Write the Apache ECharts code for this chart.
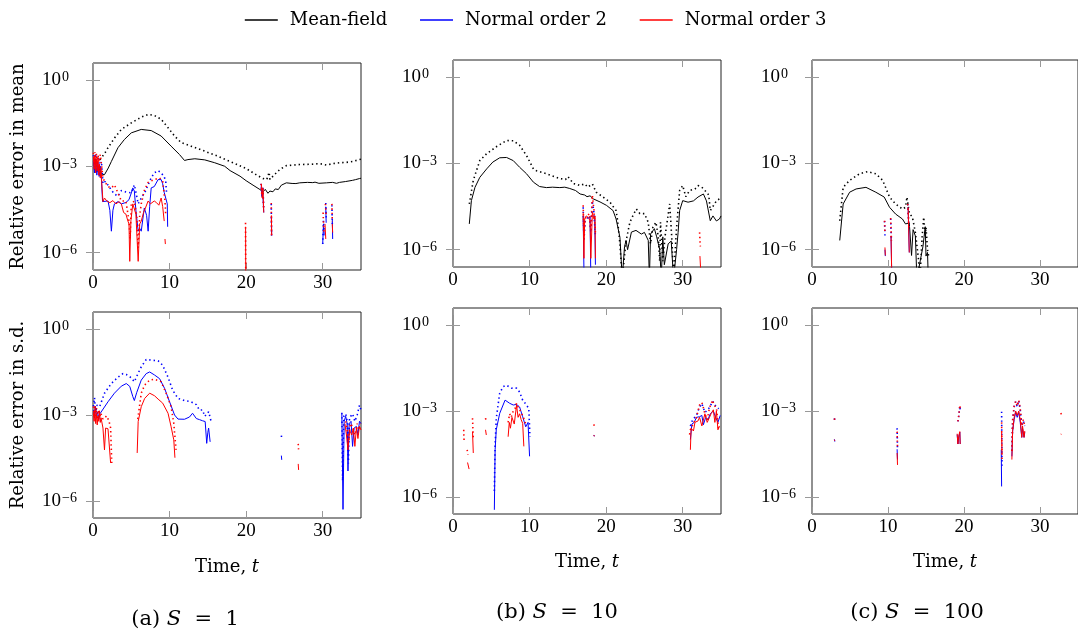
<!DOCTYPE html>
<html><head><meta charset="utf-8">
<script src="https://cdn.jsdelivr.net/npm/echarts@6/dist/echarts.min.js"></script>
<style>html,body{margin:0;padding:0;background:#fff}#c{width:1078px;height:637px}</style>
</head><body><div id="c"></div>
<script>
// ---------- tick labels ----------
const xTicks = [0, 10, 20, 30];
const yTicks = [1e-6, 1e-3, 1];
const captions = ['(a)', '(b)', '(c)'];
const captionS = ['1', '10', '100'];
const seriesNames = ['Mean-field', 'Normal order 2', 'Normal order 3'];

// ---------- (a) S = 1, relative error in mean ----------
const a_mean_mf = [[0.2,8e-4],[0.5,6.5e-4],[0.8,8.5e-4],[1.1,5.5e-4],[1.5,5.2e-4],[2.0,8.9e-4],[2.4,1.5e-3],[3.26,4.5e-3],[4.1,8.7e-3],[5.0,1.48e-2],[6.3,1.95e-2],[7.6,1.78e-2],[8.9,1.15e-2],[10.2,5.1e-3],[11.3,2.6e-3],[11.95,1.62e-3],[12.4,1.74e-3],[13.3,1.86e-3],[14.6,1.7e-3],[15.9,1.35e-3],[17.2,1.02e-3],[17.9,7.2e-4],[19.2,4.6e-4],[20.0,3.2e-4],[20.9,2.24e-4],[21.8,1.58e-4],[22.2,1.32e-4],[22.5,1.6e-4],[22.85,1.17e-4],[23.1,1.4e-4],[23.5,1.32e-4],[23.8,1.66e-4],[24.2,1.58e-4],[24.6,2.24e-4],[25.25,2.7e-4],[26.0,2.57e-4],[26.5,2.55e-4],[27.0,2.7e-4],[28.0,2.8e-4],[28.7,2.75e-4],[29.0,2.85e-4],[29.5,2.6e-4],[30.5,2.7e-4],[31.3,2.8e-4],[31.8,2.6e-4],[32.2,2.8e-4],[33.0,3.0e-4],[33.9,3.3e-4],[34.3,3.5e-4],[34.8,3.8e-4],[35,3.9e-4]];
const a_mean_mf_dot = [[0.9,1.7e-3],[1.5,2.8e-3],[1.96,4.5e-3],[2.83,1.0e-2],[3.7,1.95e-2],[5.0,3.3e-2],[6.3,5.2e-2],[7.2,6.5e-2],[8.0,6.0e-2],[8.9,4.4e-2],[9.8,2.24e-2],[10.65,1.15e-2],[11.5,6.8e-3],[12.8,5.1e-3],[14.6,3.4e-3],[16.3,2.3e-3],[17.3,1.74e-3],[18.3,1.35e-3],[20.0,8.5e-4],[21.3,5.2e-4],[22.2,3.8e-4],[22.7,3.55e-4],[23.0,6.3e-4],[23.1,3.55e-4],[23.7,5.2e-4],[24.4,7.9e-4],[25.25,1.07e-3],[27.0,1.17e-3],[28.5,1.2e-3],[29.6,1.26e-3],[30.5,1.12e-3],[31.3,1.26e-3],[32.2,1.35e-3],[33.0,1.38e-3],[33.9,1.5e-3],[34.8,1.74e-3],[35,1.78e-3]];
const a_mean_n2 = [[0.05,1.5e-3],[0.2,6e-4],[0.35,1.8e-3],[0.5,5e-4],[0.65,1.2e-3],[0.8,4.5e-4],[0.95,9e-4],[1.1,3.5e-4],[1.25,6e-5],[1.5,7e-5],[1.96,6.3e-5],[2.2,3e-5],[2.4,5.6e-6],[2.6,3e-5],[2.8,5e-5],[3.26,6e-5],[3.7,5e-5],[4.3,5.6e-5],[4.7,7e-5],[5.0,1.2e-4],[5.2,1.8e-4],[5.4,1.4e-4],[5.6,3e-5],[5.9,5.6e-6],[6.1,7e-6],[6.3,5.6e-6],[6.7,3.6e-5],[7.0,2e-5],[7.2,5.6e-6],[7.4,4e-5],[7.6,1.8e-4],[8.0,2e-4],[8.5,3.5e-4],[8.9,3.5e-4],[9.1,2.5e-4],[9.3,1.26e-4],[9.5,1.4e-4],[9.7,5e-5],[9.75,8e-6],
  null,[21.95,2e-4],[22.05,9e-5],[22.15,1.5e-4],[22.3,2.5e-5],null,[23.3,1.8e-5],[23.33,4e-6],null,[30.0,2e-6],[30.1,1e-5],[30.2,4e-6],null,[30.4,4e-5],[30.45,1.1e-5],null,[31.25,1.5e-5],[31.3,3e-6]];
const a_mean_n2_dot = [[0.05,2.5e-3],[0.2,1.2e-3],[0.35,2.8e-3],[0.5,1.0e-3],[0.7,2.2e-3],[0.9,8e-4],[1.1,1.5e-3],[1.3,2.5e-4],[1.6,3e-4],[2.0,2.2e-4],[2.4,1.5e-4],[2.8,1.1e-4],[3.26,9.3e-5],[3.7,1.45e-4],[4.3,1.3e-4],[5.0,1.2e-4],[5.4,2.3e-4],[5.6,1.3e-4],[5.9,5e-5],[6.3,8e-5],[6.85,1.4e-4],[7.2,2.3e-4],[7.6,4e-4],[8.0,6e-4],[8.5,7.2e-4],[8.9,6e-4],[9.3,4.4e-4],[9.5,3e-4],[9.6,1.26e-4],
  null,[21.95,2.5e-4],[22.1,1e-4],[22.2,2e-4],[22.3,3e-5],null,[23.28,5e-5],[23.32,4e-6],null,[30.0,2e-6],[30.1,1.3e-5],[30.2,5e-6],null,[30.4,5.4e-5],[30.45,1.5e-5],null,[31.2,4.5e-5],[31.25,1e-5]];
const a_mean_n3 = [[0.05,2.2e-3],[0.15,8e-4],[0.25,2.5e-3],[0.35,6e-4],[0.45,1.8e-3],[0.55,7e-4],[0.65,2e-3],[0.75,5e-4],[0.85,1.2e-3],[0.95,4e-4],[1.05,9e-4],[1.15,2.5e-4],[1.3,6e-5],[1.5,8e-5],[1.8,6.3e-5],[2.2,5.5e-5],[2.6,6.5e-5],[3.0,5e-5],[3.4,6e-5],[3.7,5e-5],[4.0,2.5e-5],[4.3,2.2e-5],[4.56,1.26e-5],[4.7,1e-5],[4.8,5e-7],[4.95,1.3e-5],[5.2,5e-5],[5.4,5e-5],[5.6,2.2e-5],[5.9,5e-7],[6.1,1e-5],[6.3,1.26e-5],[6.6,2.5e-5],[6.85,3.6e-5],[7.2,6.3e-5],[7.5,5e-5],[8.0,6.3e-5],[8.3,5.5e-5],[8.6,4.5e-5],[8.9,8e-5],[9.1,4e-5],[9.3,1.26e-5],null,[9.4,3e-6],[9.45,2e-6],
  null,[19.93,8e-6],[19.95,1e-7],null,[22.0,2.3e-4],[22.1,8e-5],[22.2,1.6e-4],[22.3,2.5e-5],null,[23.3,2e-5],[23.33,4e-6],null,[30.3,1e-5],[30.4,3e-6],null,[31.25,1e-5],[31.3,5e-6]];
const a_mean_n3_dot = [[0.05,3e-3],[0.15,1.5e-3],[0.25,3.2e-3],[0.35,1.2e-3],[0.45,2.8e-3],[0.55,1e-3],[0.65,2.5e-3],[0.8,1.4e-3],[0.95,2.6e-3],[1.1,1.2e-3],[1.3,4e-4],[1.5,3.1e-4],[1.96,2e-4],[2.4,1.8e-4],[2.8,2.3e-4],[3.26,1.2e-4],[3.7,6.3e-5],[4.3,6.3e-5],[4.7,1.26e-5],[4.85,3e-6],[5.0,5e-5],[5.4,6.3e-5],[5.7,2e-5],[5.9,1.5e-6],[6.1,2e-5],[6.3,5e-5],[6.7,1.45e-4],[7.2,2.8e-4],[8.0,3.5e-4],[8.7,4e-4],[9.1,3.1e-4],[9.4,6.3e-5],[9.5,2e-5],
  null,[19.92,1.1e-5],[19.95,1e-7],null,[21.95,2.5e-4],[22.05,1e-4],[22.15,2e-4],[22.3,3e-5],null,[23.28,5.4e-5],[23.32,3.7e-6],null,[30.05,2.5e-5],[30.15,5e-6],null,[30.35,5e-5],[30.45,2e-5],null,[31.2,5e-5],[31.25,1.2e-5]];

// ---------- (b) S = 10, relative error in mean ----------
const b_mean_mf = [[2.13,7.9e-6],[2.4,5.1e-5],[2.87,1.48e-4],[3.5,3.3e-4],[4.4,6.5e-4],[5.2,1.12e-3],[6.1,1.58e-3],[7.0,1.62e-3],[7.87,1.26e-3],[8.7,7.4e-4],[9.6,4.4e-4],[10.5,2.24e-4],[11.3,1.58e-4],[12.2,1.45e-4],[13.0,1.5e-4],[13.95,1.45e-4],[14.6,1.5e-4],[15.25,1.35e-4],[16.0,1.15e-4],[16.6,8.7e-5],[17.2,8e-5],[17.5,7e-5],[17.9,7.5e-5],[18.3,5.9e-5],[19.2,4.6e-5],[20.04,3.5e-5],[20.9,2.3e-5],[21.3,1.17e-5],[21.8,2.7e-6],[22.1,1e-7],[22.4,1.26e-6],[22.6,2.1e-6],[22.8,1e-6],[23.3,4.1e-6],[23.9,4.7e-6],[24.6,3.5e-6],[25.0,4e-6],[25.5,2.1e-6],[25.65,1e-7],[25.8,3.5e-6],[26.3,5.4e-6],[26.6,2.8e-6],[27.0,1e-6],[27.2,1e-7],[27.4,2.8e-6],[27.6,3e-7],[28.1,1.6e-6],[28.5,2e-6],[28.8,1e-7],[29.2,1e-6],[29.4,4e-6],[29.6,2.3e-5],[30.0,5.1e-5],[30.7,4.5e-5],[31.4,5e-5],[32.0,6.8e-5],[32.7,8.7e-5],[33.1,5e-5],[33.6,1.02e-5],[33.95,1.5e-5],[34.4,1e-5],[34.8,1.17e-5],[35,1.5e-5]];
const b_mean_mf_dot = [[2.13,3.9e-5],[2.65,2.6e-4],[3.5,1.26e-3],[4.4,2.2e-3],[5.7,3.9e-3],[7.0,6.3e-3],[7.87,6.2e-3],[8.7,4.3e-3],[9.6,1.9e-3],[10.5,6.5e-4],[10.9,5.6e-4],[12.2,4.4e-4],[13.95,3e-4],[14.7,2.8e-4],[15.0,3.5e-4],[15.4,2.6e-4],[15.7,2e-4],[16.2,1.9e-4],[16.56,1.7e-4],[17.2,1.95e-4],[17.6,1.5e-4],[18.2,1.95e-4],[18.7,1e-4],[19.6,6.8e-5],[20.5,4.5e-5],[21.3,2.3e-5],[21.5,1.02e-5],[21.8,1.6e-6],[22.1,1e-7],[22.6,2e-6],[23.1,9e-6],[23.5,1.55e-5],[23.95,2.6e-5],[24.4,1.8e-5],[25.0,1.8e-5],[25.5,9e-6],[25.8,1.6e-6],[26.1,6e-6],[26.5,9e-6],[26.8,3e-6],[27.0,4e-7],[27.1,9e-6],[27.4,4e-7],[27.7,3e-6],[28.3,3.9e-5],[28.6,2e-6],[28.8,1e-7],[29.2,6e-6],[29.6,1.15e-4],[30.0,1.7e-4],[30.4,7e-5],[30.9,1.15e-4],[31.6,1.3e-4],[32.0,1.7e-4],[32.5,1.5e-4],[32.9,1.15e-4],[33.4,8e-5],[33.6,2.3e-5],[33.95,3.2e-5],[34.4,5e-5],[34.8,5.9e-5],[35,6.5e-5]];
const b_mean_n2 = [[17.0,1.5e-5],[17.1,2e-7],null,[17.9,1.5e-5],[18.0,1e-7],null,[18.5,1.5e-5],[18.6,3e-7]];
const b_mean_n2_dot = [[17.0,3e-5],[17.1,2e-6],[17.25,1e-5],[17.5,1.2e-5],[17.8,1.5e-5],[18.0,4e-6],[18.2,5e-5],[18.4,2e-5],[18.6,3e-6]];
const b_mean_n3 = [[17.0,2e-5],[17.1,5e-7],[17.2,1.2e-5],[17.4,1.5e-5],[17.7,1.3e-5],[17.9,1e-5],[18.0,5e-7],[18.2,2e-5],[18.4,1.2e-5],[18.55,1.5e-5],[18.6,5e-7],null,[32.25,6e-7],[32.4,1e-7]];
const b_mean_n3_dot = [[17.0,3.5e-5],[17.1,3e-6],[17.25,1.2e-5],[17.5,1.4e-5],[17.8,1.8e-5],[18.0,5e-6],[18.2,7.8e-5],[18.4,2.5e-5],[18.6,4e-6],null,[32.2,4e-6],[32.3,1.3e-6]];

// ---------- (c) S = 100, relative error in mean ----------
const c_mean_mf = [[3.65,2.1e-6],[4.1,3.9e-5],[4.95,1e-4],[5.8,1.3e-4],[7.1,1.48e-4],[8.4,1e-4],[9.5,6.8e-5],[10.2,3e-5],[11.0,1.74e-5],[11.9,1.17e-5],[12.3,7.9e-6],[12.8,8.5e-6],[13.1,6.3e-7],[13.3,5e-6],[13.6,3e-6],[13.8,1e-7],[14.6,1.3e-6],[14.7,1.26e-6],[14.9,6.3e-6],[15.0,6e-7],[15.2,8e-7],[15.3,1e-7]];
const c_mean_mf_dot = [[3.65,1.02e-5],[4.1,1.48e-4],[4.95,2.6e-4],[6.26,4.4e-4],[7.3,5.2e-4],[8.4,4.4e-4],[9.3,2.6e-4],[10.2,6.8e-5],[11.0,3.9e-5],[11.9,2.6e-5],[12.3,3e-5],[12.5,6.8e-5],[12.8,1.8e-5],[13.2,1.4e-5],[13.6,4e-6],[14.0,5e-7],[14.2,1e-7],[14.5,3e-6],[14.7,1.35e-5],[14.9,3e-6],[15.0,6e-6],[15.2,1e-6],[15.4,5e-7]];
const c_mean_n2 = [[9.6,1e-6],[9.65,6e-7],null,[10.4,3e-6],[10.5,1e-7],null,[12.65,3e-5],[12.8,8e-7]];
const c_mean_n2_dot = [[9.55,1e-5],[9.6,3e-6],null,[10.35,1.2e-5],[10.45,2e-6],null,[12.6,3.9e-5],[12.75,6e-6]];
const c_mean_n3 = [[9.6,1.2e-6],[9.65,6.3e-7],null,[10.4,3e-6],[10.5,1e-7],null,[12.65,3e-5],[12.8,8e-7]];
const c_mean_n3_dot = [[9.55,1.02e-5],[9.6,3.5e-6],null,[10.35,1.26e-5],[10.45,2.1e-6],null,[12.6,3.9e-5],[12.75,6e-6]];

// ---------- (a) S = 1, relative error in s.d. ----------
const a_sd_n2 = [[0.05,1.5e-3],[0.2,8e-4],[0.3,2e-3],[0.45,9e-4],[0.6,1.3e-3],[0.75,7e-4],[0.9,1.1e-3],[1.1,1.15e-3],[1.96,2.9e-3],[2.8,5.8e-3],[3.7,1.02e-2],[4.35,1.26e-2],[4.8,1.0e-2],[5.2,4.4e-3],[5.4,3.2e-3],[5.7,6e-3],[6.3,1.66e-2],[6.95,2.8e-2],[7.4,3.2e-2],[8.04,2.5e-2],[8.7,1.86e-2],[9.35,8.5e-3],[10.0,2.9e-3],[10.65,1.0e-3],[11.1,7.2e-4],[11.95,7.1e-4],[12.6,8.5e-4],[13.0,1.15e-3],[13.5,7.5e-4],[13.9,6.9e-4],[14.3,6.3e-4],[14.65,5.9e-4],[14.85,1.02e-4],[15.0,2.5e-4],[15.1,3.5e-4],[15.3,1.15e-4],
  null,[24.6,3.8e-5],[24.65,2.7e-5],null,[32.5,1.1e-3],[32.65,5e-7],[32.8,6e-4],[33.0,9e-4],[33.2,5e-4],[33.3,1.1e-5],[33.45,5e-4],[33.7,6e-4],[33.9,8e-5],[34.1,3.5e-4],[34.4,4e-4],[34.6,2e-4],[34.8,6e-4],[35,5e-4]];
const a_sd_n2_dot = [[0.05,2e-3],[0.2,4e-3],[0.35,1.2e-3],[0.5,2.2e-3],[0.87,1.95e-3],[1.5,5.8e-3],[2.4,1.26e-2],[3.26,2.1e-2],[3.9,2.8e-2],[4.35,2.6e-2],[5.0,2e-2],[5.4,1.45e-2],[5.87,2.8e-2],[6.3,4.8e-2],[6.95,8.7e-2],[7.6,8.3e-2],[8.5,7.9e-2],[9.1,5.5e-2],[9.8,2.1e-2],[10.4,7.4e-3],[11.1,3.8e-3],[11.95,3.2e-3],[12.8,2.9e-3],[13.5,2.3e-3],[13.9,1.48e-3],[14.3,1.5e-3],[14.6,9e-4],[14.8,8.7e-4],[15.1,1.3e-3],[15.4,6.3e-4],
  null,[24.6,1.9e-4],[24.65,1.35e-4],null,[32.5,1.2e-3],[32.6,5e-6],[32.75,9e-4],[33.0,1.1e-3],[33.2,6e-4],[33.35,2e-5],[33.5,8e-4],[33.9,1.1e-3],[34.2,6e-4],[34.5,1.0e-3],[34.8,2.2e-3],[35,1.5e-3]];
const a_sd_n3 = [[0.05,1.2e-3],[0.15,6e-4],[0.25,1.6e-3],[0.35,5e-4],[0.45,1.1e-3],[0.55,4.5e-4],[0.65,9e-4],[0.75,6e-4],[0.85,1.4e-3],[0.95,5.5e-4],[1.05,8e-4],[1.3,3.5e-4],[1.5,6e-5],[1.65,3.5e-4],[1.96,3.3e-4],[2.2,3.2e-4],[2.3,2.1e-5],null,[5.77,4.7e-5],[5.9,5.9e-4],[6.3,1.95e-3],[6.75,3.8e-3],[7.4,5.8e-3],[8.04,4.7e-3],[8.5,3.6e-3],[9.1,2.6e-3],[9.8,1.15e-3],[10.2,3.9e-4],[10.55,1.35e-4],[10.7,3.2e-5],
  null,[26.8,1.95e-5],[26.85,1.2e-5],null,[32.9,5e-4],[33.1,2e-4],[33.3,6e-5],[33.5,3e-4],[33.8,2e-4],[34.0,3.5e-4],[34.2,8e-5],[34.4,3.5e-4],[34.6,1.5e-4],[34.8,4e-4],[35,3e-4]];
const a_sd_n3_dot = [[0.05,2e-3],[0.15,9e-4],[0.25,2.2e-3],[0.35,8e-4],[0.45,1.8e-3],[0.55,7e-4],[0.7,1.5e-3],[0.85,8e-4],[1.0,1.2e-3],[1.3,7.2e-4],[1.8,9.3e-4],[2.1,6e-4],[2.3,3.5e-4],[2.45,2.1e-5],null,[5.85,7.2e-4],[6.3,5.8e-3],[6.75,1.12e-2],[7.4,1.66e-2],[8.04,1.78e-2],[8.9,1.45e-2],[9.55,5.8e-3],[10.2,1.95e-3],[10.55,5.1e-4],[10.85,6e-5],
  null,[26.8,9.8e-5],[26.85,6.3e-5],null,[33.0,6e-4],[33.2,3e-4],[33.4,1.2e-4],[33.6,5e-4],[33.9,4e-4],[34.2,2e-4],[34.5,5e-4],[34.7,3e-4],[34.9,5e-4]];

// ---------- (b) S = 10, relative error in s.d. ----------
const b_sd_n2 = [[5.4,3.5e-7],[5.5,4.4e-5],[5.65,2.2e-4],[6.1,8.3e-4],[6.8,2.4e-3],[7.4,1.86e-3],[7.87,1.62e-3],[8.3,1.7e-3],[8.7,1.38e-3],[9.1,6.3e-4],[9.5,2.8e-4],[9.8,4e-4],[10.0,2.6e-5],
  null,[18.4,1.45e-4],[18.45,1.3e-4],null,[31.0,1e-4],[31.2,3.5e-4],[31.5,4e-4],[31.8,6e-4],[32.2,6.3e-4],[32.5,7e-4],[32.7,3.3e-4],[33.0,6e-4],[33.3,5e-4],[33.6,8e-4],[34.0,1e-3],[34.3,6e-4],[34.6,4e-4],[34.9,7e-4]];
const b_sd_n2_dot = [[5.4,1.6e-6],[5.5,6e-5],[5.65,5.5e-4],[6.1,4.2e-3],[6.55,7.1e-3],[7.0,7.9e-3],[7.65,6.3e-3],[8.3,6.3e-3],[8.7,4.6e-3],[9.1,2.4e-3],[9.6,1.62e-3],[9.9,1.2e-3],[10.05,1.26e-4],
  null,[31.0,3e-4],[31.3,5e-4],[31.8,7e-4],[32.2,1.4e-3],[32.5,1.8e-3],[32.9,9e-4],[33.3,1.1e-3],[33.6,1.5e-3],[33.9,2.2e-3],[34.3,1.5e-3],[34.7,1.2e-3]];
const b_sd_n3 = [[1.9,1.58e-5],[2.1,9.3e-6],null,[2.55,1.9e-4],[2.65,3.4e-5],null,[4.25,2.2e-4],[4.35,1.45e-4],null,[7.2,1.26e-4],[7.35,4e-4],[7.5,2.5e-4],[7.7,6e-4],[7.87,6.3e-4],[8.0,3.5e-4],[8.3,1.6e-3],[8.5,6e-4],[8.7,8e-4],[8.9,5e-4],[9.1,3.7e-4],[9.25,5.8e-5],
  null,[18.4,1.45e-4],[18.45,1.3e-4],null,[31.0,4.4e-5],[31.1,2.5e-4],[31.4,2e-4],[31.6,4e-4],[32.0,4.5e-4],[32.2,6e-4],[32.5,3e-4],[32.7,2.8e-4],[32.9,8e-4],[33.2,4e-4],[33.5,6e-4],[33.7,8e-4],[34.0,1.1e-3],[34.2,4e-4],[34.4,1e-3],[34.6,2.2e-4],[34.8,3e-4]];
const b_sd_n3_dot = [[1.4,2.2e-4],[1.45,8.5e-5],null,[1.85,4.4e-5],[1.95,3e-5],null,[2.55,5.6e-4],[2.65,9.8e-5],null,[4.25,5.6e-4],[4.35,4e-4],null,[7.2,4e-4],[7.4,8e-4],[7.6,6e-4],[7.87,1.0e-3],[8.1,1.2e-3],[8.3,1.86e-3],[8.5,1.4e-3],[8.7,1.6e-3],[9.1,7e-4],[9.5,3.5e-4],
  null,[18.4,3.4e-4],[18.45,3e-4],null,[30.9,1.5e-4],[31.0,2.2e-4],[31.4,3.7e-4],[31.8,6e-4],[32.2,1.62e-3],[32.5,2e-3],[32.7,1.3e-3],[32.9,8e-4],[33.2,5e-4],[33.5,1.3e-3],[33.9,2.4e-3],[34.1,1.6e-3],[34.4,1.3e-3],[34.7,2.2e-4]];

// ---------- (c) S = 100, relative error in s.d. ----------
const c_sd_n2 = [[2.95,1.02e-4],[3.0,8.5e-5],null,[11.2,4.6e-5],[11.25,2e-5],null,[19.1,1.5e-4],[19.2,7e-5],[19.3,1.2e-4],[19.45,1.8e-4],[19.5,7e-5],null,[24.9,4.4e-5],[24.95,2.3e-6],null,[26.3,2.6e-5],[26.4,2e-4],[26.6,5e-4],[26.8,9e-4],[27.0,6e-4],[27.2,9e-4],[27.4,4e-4],[27.6,1.2e-4],[27.7,2.5e-4],[27.9,1.2e-4],[28.0,1.8e-4]];
const c_sd_n2_dot = [[2.95,5.5e-4],[3.0,4.3e-4],null,[11.2,2.5e-4],[11.25,4.4e-5],null,[19.2,4.3e-4],[19.35,8e-4],[19.45,1.5e-3],[19.5,1.1e-3],null,[24.95,9.5e-4],[25.0,1.15e-5],null,[26.3,4e-5],[26.4,4.5e-4],[26.6,1.4e-3],[26.8,2.1e-3],[27.0,1.4e-3],[27.2,2.3e-3],[27.4,1.1e-3],[27.6,3e-4],[27.8,4.5e-4],[28.0,3e-4]];
const c_sd_n3 = [[2.95,1.0e-4],[3.0,9e-5],null,[11.2,3.4e-5],[11.25,1.3e-5],null,[19.1,1.6e-4],[19.2,7e-5],[19.3,1.3e-4],[19.45,1.9e-4],[19.5,7e-5],null,[24.95,2e-4],[25.0,3e-5],null,[26.3,2e-5],[26.4,2e-4],[26.6,6e-4],[26.8,1e-3],[27.0,7e-4],[27.2,1e-3],[27.4,5e-4],[27.6,1.2e-4],[27.7,3e-4],[27.9,1.2e-4],[28.0,2e-4],null,[32.75,1.6e-4],[32.8,1.5e-4]];
const c_sd_n3_dot = [[2.95,5.5e-4],[3.0,4.6e-4],null,[11.2,1.9e-4],[11.25,5e-5],null,[19.2,4.3e-4],[19.35,8e-4],[19.45,1.6e-3],[19.5,1.2e-3],null,[24.95,4e-4],[25.0,2e-5],null,[26.3,4e-5],[26.4,5e-4],[26.6,1.5e-3],[26.8,2.2e-3],[27.0,1.5e-3],[27.2,2.4e-3],[27.4,1.2e-3],[27.6,3e-4],[27.8,5e-4],[28.0,3e-4],null,[32.75,8.5e-4],[32.8,7.5e-4]];

// ---------- layout ----------
const panels = [
  {left: 93,  top: 63,  h: 207, data: [a_mean_mf, a_mean_mf_dot, a_mean_n2, a_mean_n2_dot, a_mean_n3, a_mean_n3_dot], yname: 'Relative error in mean', xname: false, nameGap: 40},
  {left: 453, top: 60,  h: 207, data: [b_mean_mf, b_mean_mf_dot, b_mean_n2, b_mean_n2_dot, b_mean_n3, b_mean_n3_dot], yname: '', xname: false, nameGap: 39},
  {left: 812, top: 60,  h: 207, data: [c_mean_mf, c_mean_mf_dot, c_mean_n2, c_mean_n2_dot, c_mean_n3, c_mean_n3_dot], yname: '', xname: false, nameGap: 39},
  {left: 93,  top: 312, h: 206, data: [null, null, a_sd_n2, a_sd_n2_dot, a_sd_n3, a_sd_n3_dot], yname: 'Relative error in s.d.', xname: true, nameGap: 40},
  {left: 453, top: 308, h: 206, data: [null, null, b_sd_n2, b_sd_n2_dot, b_sd_n3, b_sd_n3_dot], yname: '', xname: true, nameGap: 39},
  {left: 812, top: 308, h: 206, data: [null, null, c_sd_n2, c_sd_n2_dot, c_sd_n3, c_sd_n3_dot], yname: '', xname: true, nameGap: 39}
];
const COLORS = ['#000000', '#0000ff', '#ff0000'];
const TXT = 'DejaVu Serif';
const NUM = 'Liberation Serif';
const YMIN = 2.5e-7, YMAX = 4;

const grid = [], xAxis = [], yAxis = [], series = [];
const tickStyle = {show: true, inside: true, length: 7, lineStyle: {color: '#999', width: 1}};

function yLabel(v) {
  const e = Math.round(Math.log10(v));
  return '{b|10}{s|' + (e < 0 ? '\u2212' + (-e) : String(e)) + '}';
}

panels.forEach((p, i) => {
  grid.push({left: p.left, top: p.top, width: 268, height: p.h, show: true, borderColor: '#222', borderWidth: 1, backgroundColor: 'transparent', containLabel: false});
  const xb = {
    type: 'value', gridIndex: i, min: 0, max: 35, interval: 10, position: 'bottom',
    axisLine: {show: false}, splitLine: {show: false},
    axisTick: Object.assign({}, tickStyle, {customValues: xTicks}),
    axisLabel: {margin: 4, fontFamily: NUM, fontSize: 19, color: '#000', customValues: xTicks}
  };
  if (p.xname) {
    xb.name = 'Time, {i|t}';
    xb.nameLocation = 'middle';
    xb.nameGap = p.nameGap;
    xb.nameTextStyle = {fontFamily: TXT, fontSize: 18, color: '#000', verticalAlign: 'top',
      rich: {i: {fontFamily: TXT, fontStyle: 'italic', fontSize: 18, color: '#000'}}};
  }
  xAxis.push(xb);
  xAxis.push({
    type: 'value', gridIndex: i, min: 0, max: 35, interval: 10, position: 'top',
    axisLine: {show: false}, splitLine: {show: false},
    axisTick: Object.assign({}, tickStyle, {customValues: xTicks}), axisLabel: {show: false}
  });
  const yl = {
    type: 'log', logBase: 10, gridIndex: i, min: YMIN, max: YMAX, position: 'left',
    axisLine: {show: false}, splitLine: {show: false}, minorTick: {show: false},
    axisTick: Object.assign({}, tickStyle, {customValues: yTicks}),
    axisLabel: {customValues: yTicks, formatter: yLabel, align: 'left', margin: 51, color: '#000',
      rich: {
        b: {fontFamily: NUM, fontSize: 19, color: '#000', verticalAlign: 'bottom', lineHeight: 19},
        s: {fontFamily: NUM, fontSize: 14, color: '#000', verticalAlign: 'top', lineHeight: 14, padding: [0, 0, 10, 1]}
      }}
  };
  if (p.yname) {
    yl.name = p.yname;
    yl.nameLocation = 'middle';
    yl.nameGap = 66;
    yl.nameRotate = 90;
    yl.nameTextStyle = {fontFamily: TXT, fontSize: 18, color: '#000'};
  }
  yAxis.push(yl);
  yAxis.push({
    type: 'log', logBase: 10, gridIndex: i, min: YMIN, max: YMAX, position: 'right',
    axisLine: {show: false}, splitLine: {show: false}, minorTick: {show: false},
    axisTick: Object.assign({}, tickStyle, {customValues: yTicks}), axisLabel: {show: false}
  });
  p.data.forEach((arr, k) => {
    if (!arr) return;
    const m = Math.floor(k / 2), dotted = (k % 2) === 1;
    series.push({
      type: 'line', name: seriesNames[m], xAxisIndex: 2 * i, yAxisIndex: 2 * i,
      symbol: 'none', showSymbol: false, silent: true, connectNulls: false, clip: true,
      lineStyle: {color: COLORS[m], width: dotted ? 1.6 : 1, type: dotted ? [1.4, 3] : 'solid'},
      itemStyle: {color: COLORS[m]},
      data: arr.map(pt => pt === null ? ['-', '-'] : pt)
    });
  });
});

const capX = [185, 557, 917], capY = [620, 613, 613];
const graphic = captions.map((c, i) => ({
  type: 'text', x: capX[i], y: capY[i], silent: true,
  style: {text: c + ' {i|S}  =  ' + captionS[i], align: 'center', verticalAlign: 'middle',
    fontFamily: TXT, fontSize: 21, fill: '#000',
    rich: {i: {fontFamily: TXT, fontStyle: 'italic', fontSize: 21, fill: '#000'}}}
}));

const chart = echarts.init(document.getElementById('c'), null, {renderer: 'canvas'});
chart.setOption({
  animation: false,
  backgroundColor: '#fff',
  legend: {
    data: seriesNames, left: 239, top: 6, itemWidth: 33, itemHeight: 14, itemGap: 32,
    itemStyle: {opacity: 0},
    lineStyle: {width: 1.6, type: 'solid'},
    textStyle: {fontFamily: TXT, fontSize: 18, color: '#000', padding: [0, 0, 0, 7]},
    selectedMode: false
  },
  grid, xAxis, yAxis, series, graphic
});
</script></body></html>
